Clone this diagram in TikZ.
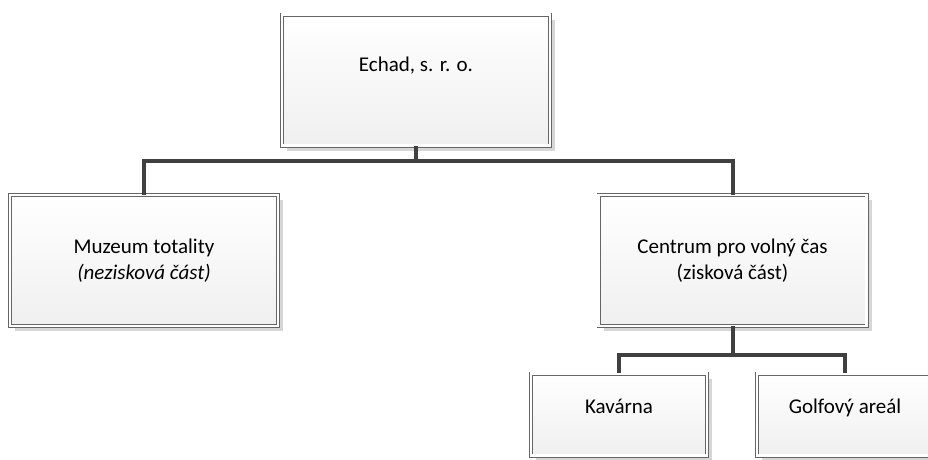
\documentclass[tikz,border=0pt]{standalone}
\usepackage{fontspec}
\setmainfont{Carlito}
\usetikzlibrary{shadows}

\begin{document}
\begin{tikzpicture}[x=1pt, y=-1pt, font=\fontsize{21}{26}\selectfont]
    \tikzstyle{unit}=[draw=black!60, line width=0.8pt, double=white, double distance=2.4pt,
      shading=axis, top color=white, bottom color=black!6, align=center, inner sep=0pt,
      drop shadow={shadow xshift=5pt, shadow yshift=-5pt, fill=black!16, opacity=1}]
    \tikzstyle{big}=[unit, minimum width=268pt, minimum height=131pt]
    \tikzstyle{small}=[unit, minimum width=176pt, minimum height=82pt]
    \tikzstyle{conn}=[draw=black!75, line width=4pt]
  \useasboundingbox (0,0) rectangle (928,459);
  \clip (0,0) rectangle (928,459);

  %% company
  \node (echad) at (416,80) [big, text depth=32pt] {Echad, s. r. o.};

  %% the two parts
  \node (muzeum) at (144,260.5) [big] {Muzeum totality\\ \textit{(nezisková část)}};
  \node (centrum) at (732.5,260.5) [big] {Centrum pro volný čas\\(zisková část)};

  %% under Centrum
  \node (kavarna) at (619,414.5) [small, text depth=17pt] {Kavárna};
  \node (golf) at (845,414.5) [small, text depth=17pt] {Golfový areál};

  \draw[conn] (echad.south) -- ++(0,15) -| (muzeum.north);
  \draw[conn] (echad.south) -- ++(0,15) -| (centrum.north);
  \draw[conn] (centrum.south) -- ++(0,29) -| (kavarna.north);
  \draw[conn] (centrum.south) -- ++(0,29) -| (golf.north);
\end{tikzpicture}
\end{document}
